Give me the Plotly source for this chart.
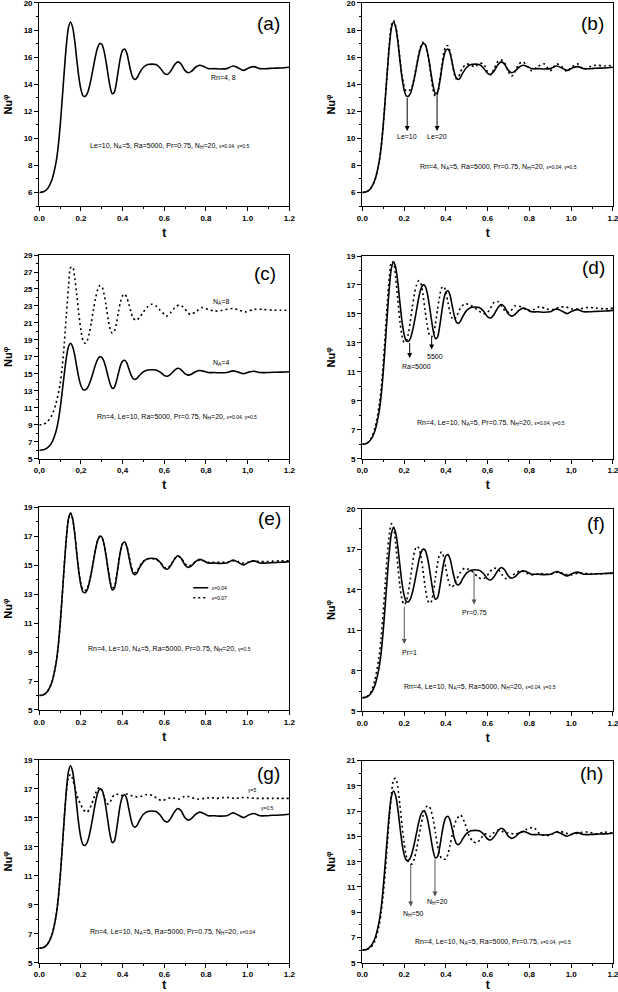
import plotly.graph_objects as go

# ---------------- data ----------------
t_base = [0, 0.02, 0.04, 0.06, 0.08, 0.09, 0.10, 0.11, 0.12, 0.13,
          0.14, 0.15, 0.16, 0.17, 0.18, 0.19, 0.20, 0.21, 0.22, 0.23,
          0.24, 0.25, 0.26, 0.27, 0.28, 0.29, 0.30, 0.31, 0.32, 0.33,
          0.34, 0.35, 0.36, 0.37, 0.38, 0.39, 0.40, 0.41, 0.42, 0.43,
          0.44, 0.45, 0.46, 0.47, 0.48, 0.50, 0.52, 0.54, 0.56, 0.58,
          0.60, 0.615, 0.63, 0.65, 0.665, 0.68, 0.70, 0.715, 0.73, 0.75,
          0.77, 0.79, 0.81, 0.84, 0.87, 0.90, 0.93, 0.955, 0.98, 1.005,
          1.03, 1.06, 1.09, 1.12, 1.16, 1.2]
nu_base = [6.0, 6.05, 6.3, 6.9, 8.2, 9.3, 10.9, 12.9, 15.0, 16.9,
           18.2, 18.6, 18.2, 17.2, 15.8, 14.5, 13.6, 13.15, 13.1, 13.3,
           13.8, 14.5, 15.3, 16.1, 16.7, 17.0, 16.95, 16.5, 15.7, 14.7,
           13.8, 13.3, 13.4, 14.1, 15.1, 16.0, 16.5, 16.6, 16.3, 15.6,
           14.9, 14.45, 14.35, 14.5, 14.8, 15.25, 15.45, 15.48, 15.45, 15.2,
           14.8, 14.72, 14.95, 15.45, 15.65, 15.5, 15.0, 14.85, 14.95, 15.25,
           15.4, 15.3, 15.15, 15.15, 15.12, 15.15, 15.35, 15.2, 15.02, 15.2,
           15.3, 15.15, 15.15, 15.18, 15.2, 15.25]
nu_le20 = [6.0, 6.05, 6.3, 6.9, 8.2, 9.3, 10.9, 12.9, 15.0, 17.0,
           18.4, 18.7, 18.3, 17.3, 15.9, 14.7, 13.9, 13.5, 13.5, 13.6,
           13.9, 14.6, 15.4, 16.2, 16.8, 17.1, 17.0, 16.5, 15.6, 14.5,
           13.5, 13.1, 13.3, 14.2, 15.3, 16.3, 16.8, 16.85, 16.4, 15.6,
           14.8, 14.4, 14.5, 14.9, 15.2, 15.5, 15.4, 15.3, 15.55, 15.5,
           14.9, 14.7, 15.1, 15.7, 15.8, 15.6, 14.9, 14.6, 14.9, 15.5,
           15.65, 15.3, 15.0, 15.3, 15.5, 15.0, 15.5, 15.3, 14.95, 15.3,
           15.5, 15.1, 15.3, 15.4, 15.35, 15.4]
nu_eps007 = [6.0, 6.05, 6.3, 6.9, 8.2, 9.3, 10.9, 12.9, 15.0, 16.9,
             18.2, 18.6, 18.2, 17.2, 15.8, 14.6, 13.7, 13.3, 13.25, 13.4,
             13.85, 14.5, 15.3, 16.1, 16.7, 16.95, 16.9, 16.5, 15.7, 14.8,
             13.9, 13.45, 13.5, 14.2, 15.1, 16.0, 16.5, 16.55, 16.3, 15.7,
             15.0, 14.6, 14.5, 14.6, 14.9, 15.3, 15.45, 15.45, 15.4, 15.2,
             14.85, 14.8, 15.0, 15.45, 15.6, 15.5, 15.1, 14.95, 15.0, 15.25,
             15.35, 15.3, 15.2, 15.2, 15.2, 15.2, 15.3, 15.25, 15.15, 15.2,
             15.3, 15.25, 15.25, 15.28, 15.3, 15.3]

t_na8 = [0, 0.02, 0.04, 0.06, 0.08, 0.10, 0.11, 0.12, 0.13, 0.14,
         0.15, 0.16, 0.17, 0.18, 0.19, 0.20, 0.21, 0.22, 0.23, 0.24,
         0.25, 0.26, 0.27, 0.28, 0.29, 0.30, 0.31, 0.32, 0.33, 0.34,
         0.35, 0.36, 0.37, 0.38, 0.39, 0.40, 0.41, 0.42, 0.43, 0.44,
         0.45, 0.465, 0.48, 0.50, 0.52, 0.54, 0.56, 0.58, 0.60, 0.61,
         0.63, 0.65, 0.67, 0.69, 0.71, 0.725, 0.75, 0.78, 0.81, 0.84,
         0.87, 0.90, 0.93, 0.96, 0.99, 1.03, 1.07, 1.12, 1.16, 1.2]
nu_na8 = [9.0, 9.05, 9.4, 10.1, 11.5, 13.8, 15.8, 18.6, 22.0, 25.2,
          27.5, 27.6, 26.3, 24.3, 22.0, 20.1, 18.9, 18.6, 18.9, 19.8,
          21.1, 22.6, 23.9, 24.9, 25.4, 25.3, 24.5, 23.1, 21.5, 20.3,
          19.8, 20.0, 20.9, 22.3, 23.5, 24.2, 24.4, 24.0, 23.2, 22.3,
          21.6, 21.3, 21.6, 22.3, 22.9, 23.2, 23.0, 22.5, 22.0, 21.8,
          22.2, 22.8, 23.1, 22.9, 22.3, 22.0, 22.3, 22.8, 22.6, 22.4,
          22.45, 22.6, 22.7, 22.5, 22.3, 22.6, 22.6, 22.5, 22.5, 22.5]

t_alt = [0, 0.02, 0.04, 0.06, 0.08, 0.09, 0.10, 0.11, 0.12, 0.13,
         0.14, 0.15, 0.16, 0.17, 0.18, 0.19, 0.20, 0.21, 0.22, 0.23,
         0.24, 0.25, 0.26, 0.27, 0.28, 0.29, 0.30, 0.31, 0.32, 0.33,
         0.34, 0.35, 0.36, 0.37, 0.38, 0.39, 0.40, 0.41, 0.42, 0.43,
         0.44, 0.45, 0.47, 0.49, 0.51, 0.53, 0.55, 0.57, 0.59, 0.61,
         0.63, 0.65, 0.67, 0.69, 0.71, 0.73, 0.76, 0.79, 0.82, 0.85,
         0.88, 0.91, 0.94, 0.97, 1.0, 1.04, 1.08, 1.12, 1.16, 1.2]
nu_ra5500 = [6.0, 6.05, 6.35, 7.1, 8.6, 9.8, 11.5, 13.6, 15.8, 17.6,
             18.6, 18.5, 17.5, 16.0, 14.5, 13.5, 13.05, 13.1, 13.6, 14.5,
             15.5, 16.4, 17.0, 17.3, 17.1, 16.4, 15.3, 14.3, 13.6, 13.4,
             13.6, 14.3, 15.3, 16.2, 16.8, 16.9, 16.5, 15.8, 15.1, 14.7,
             14.6, 14.8, 15.4, 15.7, 15.65, 15.5, 15.3, 15.1, 15.0, 15.3,
             15.8, 15.85, 15.5, 15.1, 15.2, 15.55, 15.5, 15.25, 15.3, 15.5,
             15.35, 15.3, 15.45, 15.5, 15.35, 15.35, 15.45, 15.4, 15.35, 15.4]
nu_pr1 = [6.0, 6.05, 6.4, 7.3, 9.0, 10.4, 12.3, 14.5, 16.6, 18.2,
          18.9, 18.6, 17.4, 15.8, 14.3, 13.3, 12.9, 13.1, 13.8, 14.8,
          15.9, 16.8, 17.2, 17.1, 16.5, 15.5, 14.3, 13.4, 13.0, 13.1,
          13.8, 14.9, 15.9, 16.6, 16.8, 16.4, 15.6, 14.8, 14.3, 14.2,
          14.4, 14.7, 15.3, 15.6, 15.5, 15.3, 15.0, 14.8, 14.9, 15.3,
          15.6, 15.5, 15.1, 14.8, 14.9, 15.2, 15.4, 15.2, 15.1, 15.2,
          15.15, 15.2, 15.3, 15.15, 15.1, 15.25, 15.2, 15.15, 15.2, 15.2]
nu_gamma5 = [6.0, 6.05, 6.3, 6.9, 8.2, 9.3, 10.9, 12.9, 15.0, 16.8,
             17.8, 18.0, 17.7, 17.1, 16.6, 16.2, 15.9, 15.6, 15.45, 15.4,
             15.6, 15.9, 16.3, 16.7, 17.0, 17.1, 16.9, 16.5, 16.1, 15.95,
             16.1, 16.4, 16.6, 16.65, 16.6, 16.55, 16.55, 16.6, 16.65, 16.6,
             16.55, 16.5, 16.45, 16.5, 16.6, 16.6, 16.5, 16.3, 16.2, 16.3,
             16.4, 16.35, 16.3, 16.45, 16.5, 16.4, 16.3, 16.35, 16.4, 16.35,
             16.4, 16.4, 16.35, 16.4, 16.4, 16.35, 16.35, 16.35, 16.35, 16.35]
nu_nh50 = [6.0, 6.05, 6.2, 6.7, 7.9, 8.9, 10.3, 12.2, 14.4, 16.6,
           18.4, 19.5, 19.6, 18.9, 17.5, 15.9, 14.5, 13.5, 13.0, 12.8,
           12.85, 13.3, 14.0, 14.9, 15.8, 16.6, 17.1, 17.4, 17.4, 17.0,
           16.3, 15.3, 14.3, 13.6, 13.25, 13.2, 13.2, 13.6, 14.3, 15.1,
           15.8, 16.3, 16.7, 16.1, 15.1, 14.6, 14.5, 14.9, 15.2, 15.0,
           15.3, 15.5, 15.4, 15.3, 15.25, 15.2, 15.3, 15.6, 15.7, 15.2,
           15.05, 15.2, 15.4, 15.3, 15.15, 15.3, 15.35, 15.2, 15.35, 15.25]

x_ticks = [0.0, 0.2, 0.4, 0.6, 0.8, 1.0, 1.2]
x_labels_dot = ["0.0", "0.2", "0.4", "0.6", "0.8", "1.0", "1.2"]
x_labels_comma = ["0,0", "0,2", "0,4", "0,6", "0,8", "1,0", "1.2"]

# ---------------- layout of panels ----------------
SM = "<span style='font-size:5px'>"
panels = [
    dict(lab="(a)", xd=[0.0636, 0.4681], yd=[0.7923, 0.9970], yr=[5, 20], t0=6, dt=2, mdt=1,
         xl=x_labels_dot, lpos=(1.099, 18.45),
         par="Le=10, N<sub>A</sub>=5, Ra=5000, Pr=0.75, N<sub>H</sub>=20, " + SM + "ε=0.04, γ=0.5</span>",
         ppos=(0.623, 9.43),
         series=[(t_base, nu_base, "solid")]),
    dict(lab="(b)", xd=[0.5862, 0.9919], yd=[0.7923, 0.9970], yr=[5, 20], t0=6, dt=2, mdt=1,
         xl=x_labels_dot, lpos=(1.101, 18.45),
         par="Rn=4, N<sub>A</sub>=5, Ra=5000, Pr=0.75, N<sub>H</sub>=20, " + SM + "ε=0.04, γ=0.5</span>",
         ppos=(0.654, 7.88),
         series=[(t_base, nu_base, "solid"), (t_base, nu_le20, "dot")]),
    dict(lab="(c)", xd=[0.0636, 0.4681], yd=[0.5376, 0.7429], yr=[5, 29], t0=5, dt=2, mdt=1,
         xl=x_labels_comma, lpos=(1.083, 26.84),
         par="Rn=4, Le=10, Ra=5000, Pr=0.75, N<sub>H</sub>=20, " + SM + "ε=0.04, γ=0.5</span>",
         ppos=(0.66, 9.95),
         series=[(t_base, nu_base, "solid"), (t_na8, nu_na8, "dot")]),
    dict(lab="(d)", xd=[0.5862, 0.9919], yd=[0.5376, 0.7419], yr=[5, 19], t0=5, dt=2, mdt=1,
         xl=x_labels_comma, lpos=(1.109, 18.22),
         par="Rn=4, Le=10, N<sub>A</sub>=5, Pr=0.75, N<sub>H</sub>=20, " + SM + "ε=0.04, γ=0.5</span>",
         ppos=(0.615, 7.49),
         series=[(t_base, nu_base, "solid"), (t_alt, nu_ra5500, "dot")]),
    dict(lab="(e)", xd=[0.0636, 0.4681], yd=[0.2843, 0.4886], yr=[5, 19], t0=5, dt=2, mdt=1,
         xl=x_labels_dot, lpos=(1.107, 18.24),
         par="Rn=4, Le=10, N<sub>A</sub>=5, Ra=5000, Pr=0.75, N<sub>H</sub>=20, " + SM + "γ=0.5</span>",
         ppos=(0.624, 9.19),
         series=[(t_base, nu_base, "solid"), (t_base, nu_eps007, "dot")]),
    dict(lab="(f)", xd=[0.5862, 0.9919], yd=[0.2830, 0.4872], yr=[5, 20], t0=5, dt=3, mdt=1.5,
         xl=x_labels_dot, lpos=(1.117, 18.92),
         par="Rn=4, Le=10, N<sub>A</sub>=5, Ra=5000, N<sub>H</sub>=20, " + SM + "ε=0.04, γ=0.5</span>",
         ppos=(0.562, 6.82),
         series=[(t_base, nu_base, "solid"), (t_alt, nu_pr1, "dot")]),
    dict(lab="(g)", xd=[0.0636, 0.4681], yd=[0.0295, 0.2339], yr=[5, 19], t0=5, dt=2, mdt=1,
         xl=x_labels_dot, lpos=(1.098, 18.1),
         par="Rn=4, Le=10, N<sub>A</sub>=5, Ra=5000, Pr=0.75, N<sub>H</sub>=20, " + SM + "ε=0.04</span>",
         ppos=(0.64, 7.14),
         series=[(t_base, nu_base, "solid"), (t_alt, nu_gamma5, "dot")]),
    dict(lab="(h)", xd=[0.5862, 0.9919], yd=[0.0295, 0.2332], yr=[5, 21], t0=5, dt=2, mdt=1,
         xl=x_labels_dot, lpos=(1.098, 19.95),
         par="Rn=4, Le=10, N<sub>A</sub>=5, Ra=5000, Pr=0.75, " + SM + "ε=0.04, γ=0.5</span>",
         ppos=(0.625, 6.66),
         series=[(t_base, nu_base, "solid"), (t_alt, nu_nh50, "dot")]),
]

FONT = "Arial"
fig = go.Figure()
layout = dict(width=618, height=992, autosize=False, showlegend=False,
              margin=dict(l=0, r=0, t=0, b=0, autoexpand=False),
              paper_bgcolor="white", plot_bgcolor="white",
              font=dict(family=FONT, color="black"))
annotations = []
shapes = []

for i, p in enumerate(panels, start=1):
    xa = "x" if i == 1 else f"x{i}"
    ya = "y" if i == 1 else f"y{i}"
    for (tt, vv, dash) in p["series"]:
        fig.add_trace(go.Scatter(x=tt, y=vv, mode="lines", xaxis=xa, yaxis=ya,
                                 line=dict(color="black", width=1.6,
                                           dash=("solid" if dash == "solid" else "2px,3px"),
                                           shape="spline", smoothing=0.8),
                                 hoverinfo="skip"))
    axis_common = dict(showline=True, linecolor="black", linewidth=1.3, mirror=True,
                       ticks="outside", ticklen=4, tickwidth=1, tickcolor="black",
                       showgrid=False, zeroline=False, automargin=False,
                       ticklabeloverflow="allow",
                       tickfont=dict(family=FONT, size=8, color="black", weight="bold"))
    layout["xaxis" if i == 1 else f"xaxis{i}"] = dict(
        axis_common, domain=p["xd"], anchor=ya, range=[0, 1.2],
        tickmode="array", tickvals=x_ticks, ticktext=p["xl"],
        minor=dict(dtick=0.1, tick0=0, ticks="outside", ticklen=2, tickcolor="black"),
        title=dict(text="t", font=dict(family=FONT, size=12, weight="bold"), standoff=6))
    layout["yaxis" if i == 1 else f"yaxis{i}"] = dict(
        axis_common, domain=p["yd"], anchor=xa, range=p["yr"],
        tick0=p["t0"], dtick=p["dt"],
        minor=dict(dtick=p["mdt"], tick0=p["t0"], ticks="outside", ticklen=2, tickcolor="black"),
        title=dict(text="Nu<sup>φ</sup>", font=dict(family=FONT, size=11, weight="bold"), standoff=8))
    annotations.append(dict(x=p["lpos"][0], y=p["lpos"][1], xref=xa, yref=ya, text=p["lab"],
                            showarrow=False, font=dict(family=FONT, size=19)))
    annotations.append(dict(x=p["ppos"][0], y=p["ppos"][1], xref=xa, yref=ya, text=p["par"],
                            showarrow=False, font=dict(family=FONT, size=7)))

def label(ax_i, x, y, text, size=7, anchor="center"):
    xa = "x" if ax_i == 1 else f"x{ax_i}"
    ya = "y" if ax_i == 1 else f"y{ax_i}"
    annotations.append(dict(x=x, y=y, xref=xa, yref=ya, text=text, showarrow=False,
                            xanchor=anchor, font=dict(family=FONT, size=size)))

def arrow(ax_i, x, y_tail, y_tip, color="black"):
    xa = f"x{ax_i}"
    ya = f"y{ax_i}"
    annotations.append(dict(x=x, y=y_tip, ax=x, ay=y_tail, xref=xa, yref=ya,
                            axref=xa, ayref=ya, text="", showarrow=True,
                            arrowhead=2, arrowsize=1, arrowwidth=1, arrowcolor=color))

# (a)
label(1, 0.882, 14.53, "Rn=4, 8")
# (b)
arrow(2, 0.215, 13.1, 10.55); label(2, 0.215, 10.1, "Le=10")
arrow(2, 0.358, 13.3, 10.55); label(2, 0.36, 10.1, "Le=20")
# (c)
label(3, 0.871, 23.5, "N<sub>A</sub>=8")
label(3, 0.871, 16.25, "N<sub>A</sub>=4")
# (d)
arrow(4, 0.227, 13.1, 11.95); label(4, 0.259, 11.4, "Ra=5000")
arrow(4, 0.332, 13.45, 12.55); label(4, 0.348, 12.05, "5500")
# (e) small key
shapes.append(dict(type="line", xref="x5", yref="y5", x0=0.739, x1=0.811, y0=13.44, y1=13.44,
                   line=dict(color="black", width=1.5)))
shapes.append(dict(type="line", xref="x5", yref="y5", x0=0.739, x1=0.811, y0=12.75, y1=12.75,
                   line=dict(color="black", width=1.5, dash="2px,3px")))
label(5, 0.818, 13.44, "ε=0.04", size=5, anchor="left")
label(5, 0.818, 12.75, "ε=0.07", size=5, anchor="left")
# (f)
arrow(6, 0.201, 12.85, 9.98, color="#555555"); label(6, 0.224, 9.37, "Pr=1")
arrow(6, 0.535, 15.45, 12.9, color="#555555"); label(6, 0.538, 12.3, "Pr=0.75")
# (g)
label(7, 1.023, 16.93, "γ=5", size=5)
label(7, 1.095, 15.65, "γ=0.5", size=5)
# (h)
arrow(8, 0.232, 12.9, 9.45, color="#555555"); label(8, 0.243, 8.86, "N<sub>H</sub>=50")
arrow(8, 0.348, 13.3, 10.25, color="#555555"); label(8, 0.359, 9.83, "N<sub>H</sub>=20")

layout["annotations"] = annotations
layout["shapes"] = shapes
fig.update_layout(**layout)
fig.write_html("out.html", config={"displayModeBar": False},
               post_script="document.body.style.margin='0px';document.body.style.padding='0px';")
